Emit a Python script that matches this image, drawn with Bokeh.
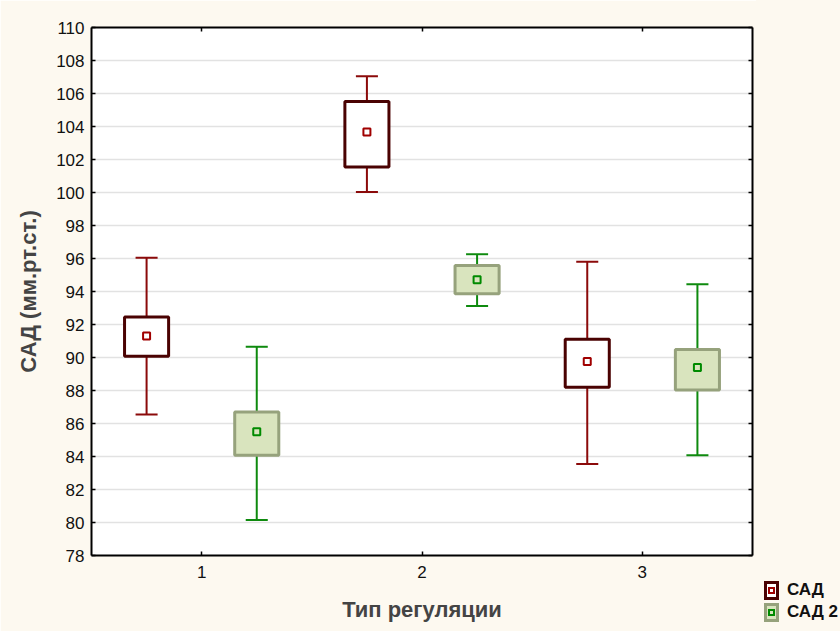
import numpy as np
from bokeh.plotting import figure
from bokeh.layouts import row
from bokeh.models import (LinearAxis, FixedTicker, Range1d, Div)
from bokeh.embed import file_html
from bokeh.resources import INLINE

# ---- data ----
groups = [1, 2, 3]
group_labels = ["1", "2", "3"]
series_names = ["САД", "САД 2"]

sad_mean = [91.3, 103.66, 89.76]
sad_box_low = [90.08, 101.55, 88.2]
sad_box_high = [92.45, 105.52, 91.1]
sad_whisk_low = [86.55, 100.03, 83.55]
sad_whisk_high = [96.04, 107.05, 95.8]

sad2_mean = [85.5, 94.71, 89.4]
sad2_box_low = [84.08, 93.86, 88.03]
sad2_box_high = [86.69, 95.58, 90.48]
sad2_whisk_low = [80.15, 93.12, 84.08]
sad2_whisk_high = [90.65, 96.26, 94.44]

y_ticks = list(range(78, 111, 2))

FONT = "Liberation Sans"
CREAM = "#FDF9F0"

p = figure(frame_width=661, frame_height=528,
           output_backend="svg", toolbar_location=None,
           x_range=Range1d(0.5, 3.5), y_range=Range1d(78, 110),
           min_border_left=91, min_border_right=4, min_border_top=27,
           min_border_bottom=76, x_axis_location=None, y_axis_location=None,
           background_fill_color="white", border_fill_color=CREAM,
           outline_line_color=None)


def style_axis(ax, labels=True):
    ax.axis_line_color = "black"
    ax.axis_line_width = 2
    ax.major_tick_line_color = "black"
    ax.major_tick_line_width = 1.5
    ax.major_tick_in = 4
    ax.major_tick_out = 0
    ax.minor_tick_line_color = None
    ax.major_label_text_font = FONT
    ax.major_label_text_font_size = "17px"
    ax.major_label_text_color = "#111111"
    if not labels:
        ax.major_label_text_font_size = "0px"
        ax.major_label_text_alpha = 0


yl = LinearAxis(ticker=FixedTicker(ticks=y_ticks))
style_axis(yl)
yl.major_label_standoff = 7
yl.axis_label = "САД (мм.рт.ст.)"
yl.axis_label_text_font = FONT
yl.axis_label_text_font_style = "bold"
yl.axis_label_text_font_size = "22px"
yl.axis_label_standoff = 12
p.add_layout(yl, "left")

yr = LinearAxis(ticker=FixedTicker(ticks=y_ticks))
style_axis(yr, labels=False)
yr.major_label_standoff = 0
p.add_layout(yr, "right")

xb = LinearAxis(ticker=FixedTicker(ticks=groups))
style_axis(xb)
xb.major_label_overrides = {g: l for g, l in zip(groups, group_labels)}
xb.major_label_standoff = 10
xb.axis_label = "Тип регуляции"
xb.axis_label_text_font = FONT
xb.axis_label_text_font_style = "bold"
xb.axis_label_text_font_size = "22px"
xb.axis_label_standoff = 16
p.add_layout(xb, "below")

xt = LinearAxis(ticker=FixedTicker(ticks=groups))
style_axis(xt, labels=False)
xt.major_label_standoff = 0
p.add_layout(xt, "above")

p.ygrid.ticker = FixedTicker(ticks=y_ticks)
p.ygrid.grid_line_color = "#e2e2e2"
p.ygrid.grid_line_width = 1.5
p.xgrid.grid_line_color = None

g = np.array(groups, dtype=float)
off = 0.25
cap = 0.05
boxw = 0.2

STYLE1 = dict(wcol="#8B0A0A", bline="#4A0202", bfill="white", mcol="#A00000", mfill="white")
STYLE2 = dict(wcol="#0E8A0E", bline="#96A27C", bfill="#D9E4BE", mcol="#008A00", mfill="#D9E4BE")


def draw_series(fig, xs, mean, blo, bhi, wlo, whi, st):
    fig.segment(x0=xs, x1=xs, y0=wlo, y1=whi, line_color=st["wcol"], line_width=2)
    fig.segment(x0=xs - cap, x1=xs + cap, y0=wlo, y1=wlo, line_color=st["wcol"], line_width=2)
    fig.segment(x0=xs - cap, x1=xs + cap, y0=whi, y1=whi, line_color=st["wcol"], line_width=2)
    fig.vbar(x=xs, width=boxw, bottom=blo, top=bhi, fill_color=st["bfill"],
             line_color=st["bline"], line_width=3)
    fig.scatter(x=xs, y=mean, marker="square", size=7, line_color=st["mcol"],
                line_width=2, fill_color=st["mfill"])


draw_series(p, g - off, sad_mean, sad_box_low, sad_box_high, sad_whisk_low,
            sad_whisk_high, STYLE1)
draw_series(p, g + off, sad2_mean, sad2_box_low, sad2_box_high, sad2_whisk_low,
            sad2_whisk_high, STYLE2)

# ---- legend (bottom-right, beside the plot) ----
def legend_item(top, name, st):
    return (
        f'<div style="position:absolute;left:8px;top:{top}px;height:19px;'
        f'display:flex;align-items:center;">'
        f'<span style="box-sizing:border-box;width:15px;height:19px;'
        f'border:3px solid {st["bline"]};background:{st["bfill"]};'
        f'display:inline-flex;align-items:center;justify-content:center;">'
        f'<span style="box-sizing:border-box;width:7px;height:7px;'
        f'border:2px solid {st["mcol"]};background:{st["mfill"]};"></span></span>'
        f'<span style="margin-left:8px;white-space:nowrap;">{name}</span></div>'
    )


html = (
    f'<div style="position:relative;width:84px;height:631px;background:{CREAM};'
    f"font-family:'{FONT}';font-weight:bold;font-size:17px;color:#111111;"
    f'overflow:hidden;">'
    + legend_item(581, series_names[0], STYLE1)
    + legend_item(603, series_names[1], STYLE2)
    + '</div>'
)
leg = Div(text=html, width=84, height=631, margin=0,
          styles={"background-color": CREAM})

layout = row(p, leg, spacing=0)

open("out.html", "w").write(file_html(layout, INLINE))
